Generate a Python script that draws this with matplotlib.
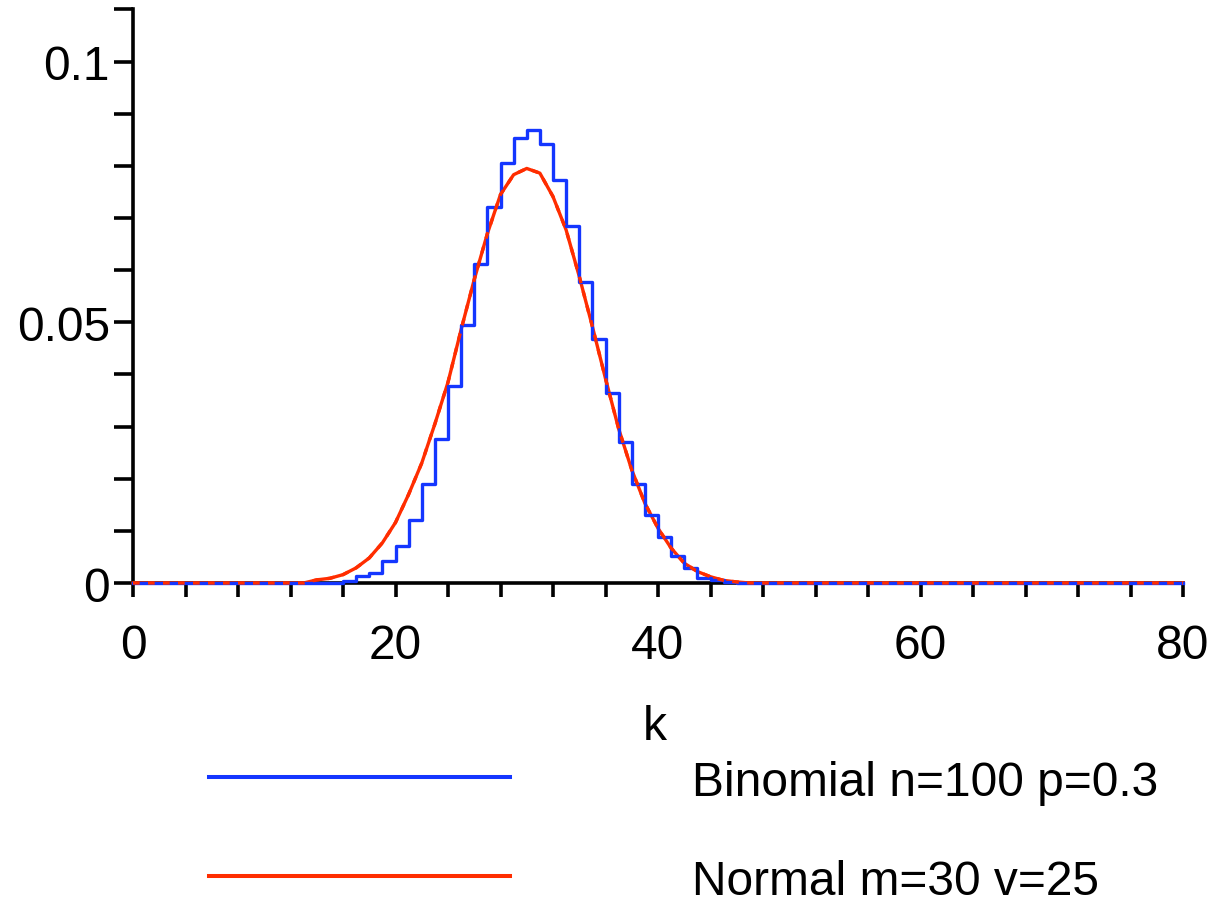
import matplotlib
matplotlib.use("Agg")
import matplotlib.pyplot as plt
from matplotlib.lines import Line2D
import numpy as np

# ---- data ----
k_values = list(range(0, 81))

# binomial step heights, value held over [k, k+1]
binom_nonzero = {
    16: 0.0003, 17: 0.0013, 18: 0.0020, 19: 0.0042, 20: 0.0071,
    21: 0.0121, 22: 0.0189, 23: 0.0276, 24: 0.0378, 25: 0.0495,
    26: 0.0612, 27: 0.0722, 28: 0.0805, 29: 0.0853, 30: 0.0868,
    31: 0.0841, 32: 0.0773, 33: 0.0685, 34: 0.0577, 35: 0.0468,
    36: 0.0364, 37: 0.0270, 38: 0.0189, 39: 0.0131, 40: 0.0089,
    41: 0.0051, 42: 0.0029, 43: 0.0010, 44: 0.0005, 45: 0.0002,
}
binomial = [binom_nonzero.get(k, 0.0) for k in k_values]

# normal curve values at integer k
normal_nonzero = {
    14: 0.0006, 15: 0.0009, 16: 0.0016, 17: 0.0029, 18: 0.0048,
    19: 0.0077, 20: 0.0116, 21: 0.0170, 22: 0.0230, 23: 0.0305,
    24: 0.0385, 25: 0.0486, 26: 0.0582, 27: 0.0670, 28: 0.0745,
    29: 0.0783, 30: 0.0795, 31: 0.0786, 32: 0.0741, 33: 0.0677,
    34: 0.0588, 35: 0.0492, 36: 0.0392, 37: 0.0296, 38: 0.0217,
    39: 0.0153, 40: 0.0105, 41: 0.0067, 42: 0.0038, 43: 0.0022,
    44: 0.0012, 45: 0.0005, 46: 0.0002,
}
normal = [normal_nonzero.get(k, 0.0) for k in k_values]

x_major = [0, 20, 40, 60, 80]
x_minor = list(range(0, 81, 4))
y_major = [0, 0.05, 0.1]
y_major_labels = ["0", "0.05", "0.1"]
y_minor = [i / 100 for i in range(0, 12)]

legend_labels = ["Binomial n=100 p=0.3", "Normal m=30 v=25"]
xlabel = "k"

BLUE = "#1436ff"
RED = "#ff2d00"
FONT = "Liberation Sans"
FS = 34.5

W, H = 1218, 903
fig = plt.figure(figsize=(W / 100, H / 100), dpi=100)
ax = fig.add_axes([133 / W, 1 - 584 / H, 1050 / W, (584 - 10.4) / H])

ax.plot(k_values, normal, color=RED, lw=2.4, zorder=3, clip_on=False)
ax.plot(k_values, binomial, color=BLUE, lw=2.4, drawstyle="steps-post",
        zorder=4, clip_on=False)
ax.plot(k_values, normal, color=RED, lw=2.4, zorder=5, clip_on=False,
        linestyle=(0, (2.0, 2.5)))

ax.set_xlim(0, 80)
ax.set_ylim(0, 0.11)

for s in ["top", "right"]:
    ax.spines[s].set_visible(False)
for s in ["left", "bottom"]:
    ax.spines[s].set_linewidth(2.6)
    ax.spines[s].set_color("black")

ax.set_xticks(x_major)
ax.set_xticklabels([str(v) for v in x_major])
ax.set_xticks(x_minor, minor=True)
ax.set_yticks(y_major)
ax.set_yticklabels(y_major_labels)
ax.set_yticks(y_minor, minor=True)

ax.tick_params(axis="x", which="both", direction="out", length=10, width=2.6,
               pad=19, labelsize=FS)
ax.tick_params(axis="y", which="both", direction="out", length=13.7, width=2.6,
               pad=3, labelsize=FS)
for lab in ax.get_xticklabels() + ax.get_yticklabels():
    lab.set_fontfamily(FONT)

fig.text(655 / W, 1 - 740 / H, xlabel, ha="center", va="baseline",
         fontsize=FS, family=FONT)

legend_colors = [BLUE, RED]
legend_y = [778, 877]
legend_base = [796, 895]
for lab, col, ly, lb in zip(legend_labels, legend_colors, legend_y, legend_base):
    fig.add_artist(Line2D([209 / W, 510 / W], [1 - ly / H, 1 - ly / H],
                          transform=fig.transFigure, color=col, lw=2.9))
    fig.text(692 / W, 1 - lb / H, lab, ha="left", va="baseline",
             fontsize=FS, family=FONT)

fig.savefig("out.png", dpi=100)
